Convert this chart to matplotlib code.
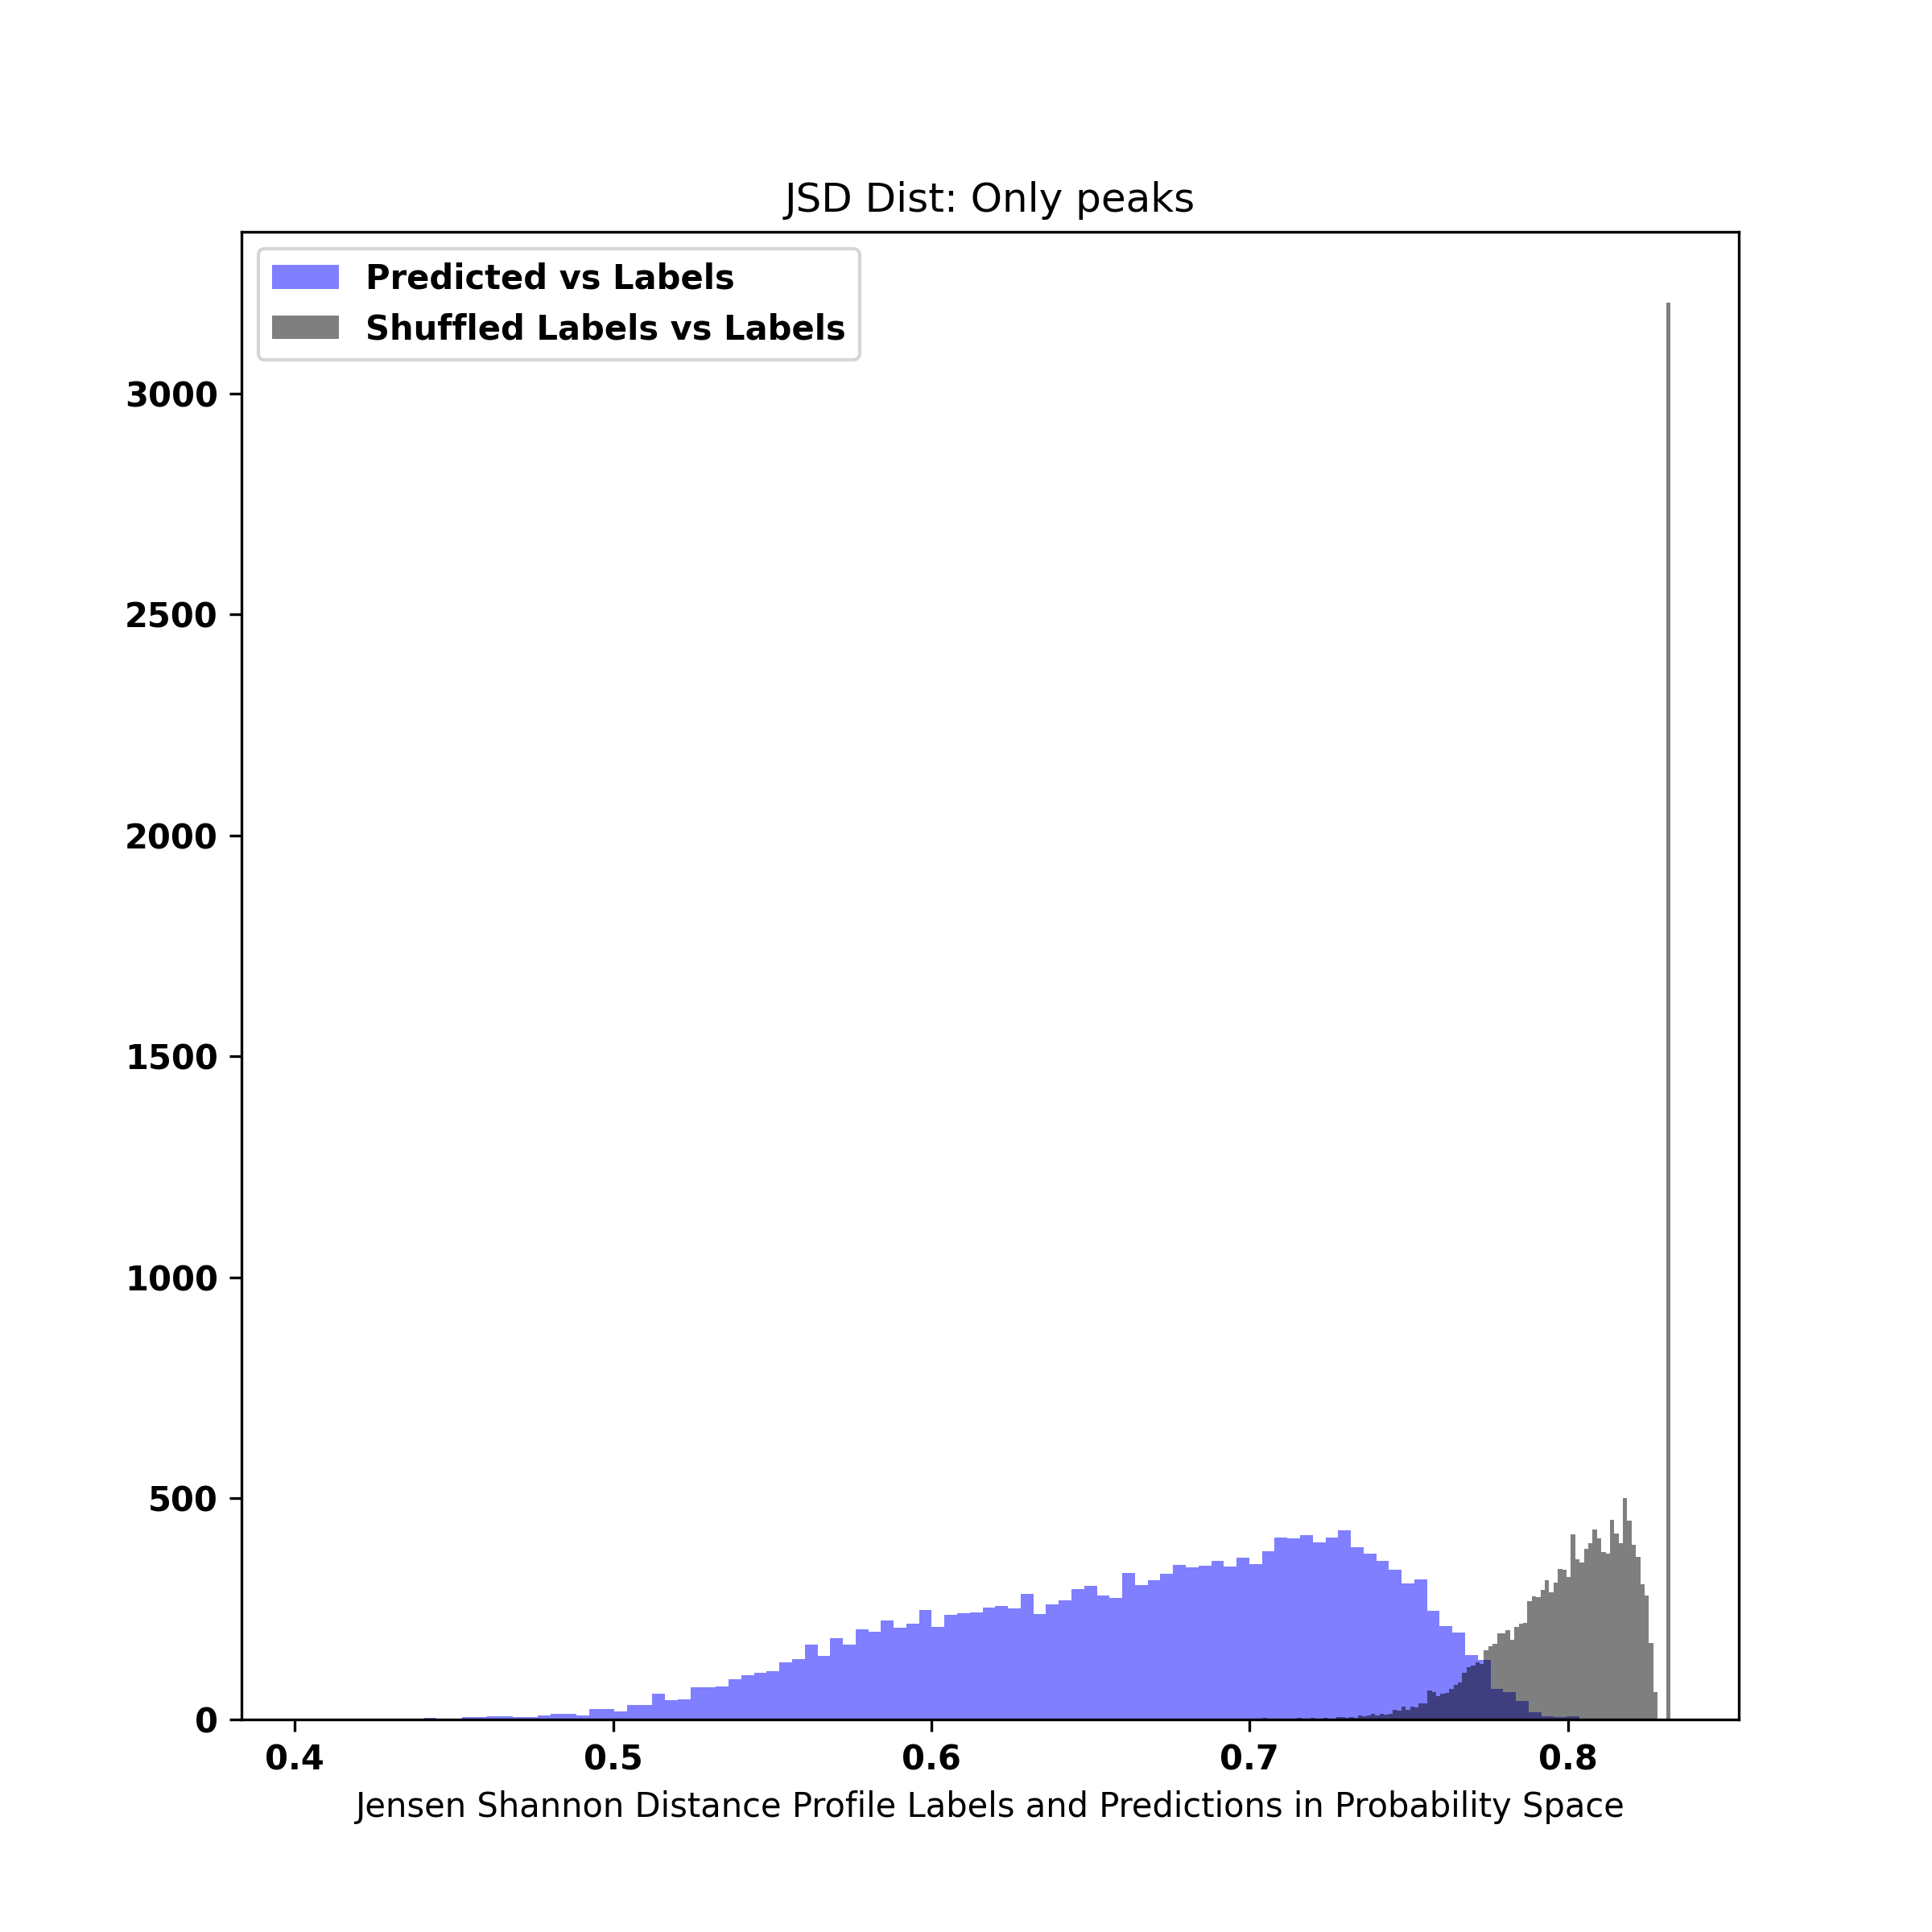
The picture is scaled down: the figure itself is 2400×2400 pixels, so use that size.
import matplotlib
matplotlib.use('Agg')
import matplotlib.pyplot as plt
import numpy as np

# JSD values, predicted vs labels: 100 bins between these limits
pred_lo, pred_hi = 0.4046, 0.8036
pred_counts = [
    1, 0, 0, 0, 0, 0, 0, 0, 0, 3,
    1, 1, 5, 5, 7, 7, 5, 5, 9, 13,
    13, 9, 24, 24, 18, 33, 33, 58, 44, 45,
    73, 73, 75, 91, 100, 106, 109, 129, 137, 169,
    144, 184, 169, 204, 198, 224, 208, 217, 248, 209,
    237, 240, 242, 253, 257, 251, 284, 238, 260, 270,
    295, 302, 280, 275, 331, 304, 315, 330, 350, 344,
    348, 359, 346, 366, 351, 381, 411, 410, 417, 401,
    411, 428, 390, 375, 359, 339, 308, 317, 246, 211,
    197, 146, 135, 69, 62, 42, 16, 7, 5, 7,
]

# shuffled labels vs labels: 100 bins between these limits
shuf_lo, shuf_hi = 0.6958, 0.8323
shuf_counts = [
    1, 0, 0, 0, 0, 0, 4, 0, 0, 0,
    0, 0, 0, 0, 4, 0, 0, 4, 0, 0,
    4, 0, 0, 5, 5, 3, 5, 3, 9, 7,
    9, 13, 9, 13, 11, 13, 22, 20, 29, 22,
    29, 27, 36, 36, 66, 62, 53, 58, 60, 69,
    78, 84, 106, 118, 122, 129, 126, 157, 166, 171,
    195, 195, 202, 180, 209, 217, 219, 268, 279, 277,
    293, 315, 288, 310, 341, 339, 322, 419, 362, 355,
    386, 399, 430, 410, 379, 375, 452, 421, 399, 501,
    450, 395, 368, 306, 280, 173, 62, 2, 0, 3205,
]

pred_edges = np.linspace(pred_lo, pred_hi, len(pred_counts) + 1)
shuf_edges = np.linspace(shuf_lo, shuf_hi, len(shuf_counts) + 1)

fig, ax = plt.subplots(figsize=(8, 8))
ax.hist(pred_edges[:-1], bins=pred_edges, weights=pred_counts,
        color='blue', alpha=0.5, label='Predicted vs Labels')
ax.hist(shuf_edges[:-1], bins=shuf_edges, weights=shuf_counts,
        color='black', alpha=0.5, label='Shuffled Labels vs Labels')

ax.set_title('JSD Dist: Only peaks')
ax.set_xlabel('Jensen Shannon Distance Profile Labels and Predictions in Probability Space')
ax.legend(loc='upper left', prop={'weight': 'bold'})
for lab in ax.get_xticklabels() + ax.get_yticklabels():
    lab.set_fontweight('bold')

plt.savefig('out.png', dpi=300)
